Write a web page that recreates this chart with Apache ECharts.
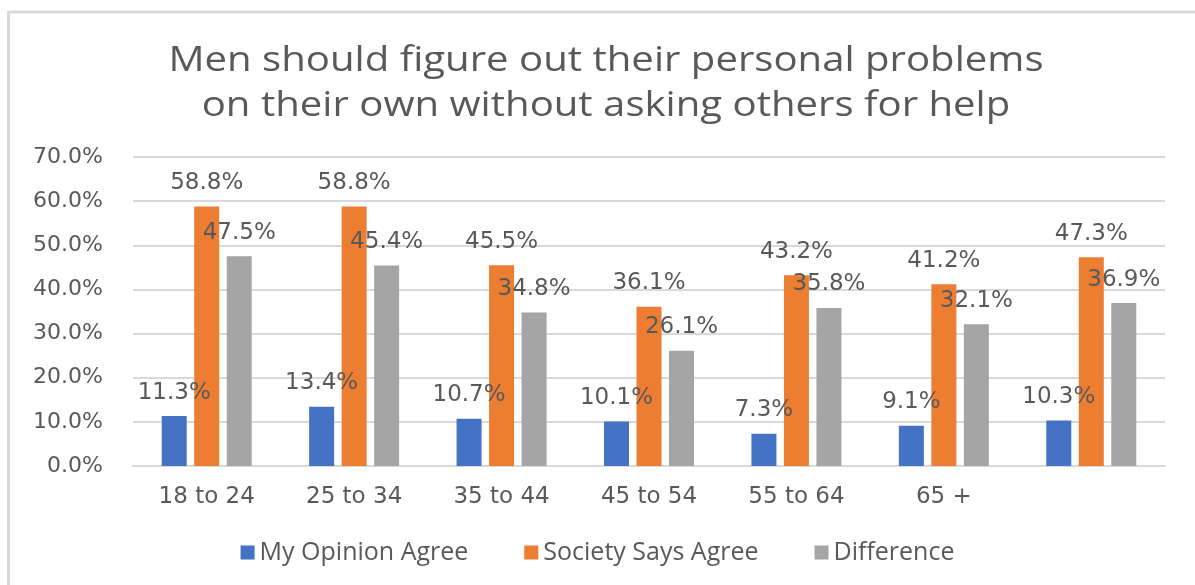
<!DOCTYPE html>
<html>
<head>
<meta charset="utf-8">
<script src="https://cdn.jsdelivr.net/npm/echarts@6/dist/echarts.min.js"></script>
<style>
  html, body { margin: 0; padding: 0; background: #fff; }
  #chart { width: 1195px; height: 585px; }
</style>
</head>
<body>
<div id="chart"></div>
<script>
// Age groups (last group is the overall total, shown without a label)
const categories = ['18 to 24', '25 to 34', '35 to 44', '45 to 54', '55 to 64', '65 +', ''];

// Percent agreeing, by age group
const myOpinionAgree = [11.3, 13.4, 10.7, 10.1, 7.3, 9.1, 10.3];
const societySaysAgree = [58.8, 58.8, 45.5, 36.1, 43.2, 41.2, 47.3];
const difference = [47.5, 45.4, 34.8, 26.1, 35.8, 32.1, 36.9];

const seriesNames = ['My Opinion Agree', 'Society Says Agree', 'Difference'];
const seriesColors = ['#4472C4', '#ED7D31', '#A5A5A5'];
const yTicks = { min: 0, max: 70, interval: 10 };
const titleLines = [
  'Men should figure out their personal problems',
  'on their own without asking others for help'
];

const textColor = '#595959';
const labelFont = 'DejaVu Sans';
const titleFont = 'Open Sans';

const chart = echarts.init(document.getElementById('chart'));

function barSeries(name, data, color) {
  return {
    name: name,
    type: 'bar',
    data: data,
    barWidth: 25,
    barGap: '30%',
    itemStyle: { color: color },
    label: {
      show: true,
      position: 'top',
      distance: 12,
      color: textColor,
      fontFamily: labelFont,
      fontSize: 23,
      formatter: p => p.value.toFixed(1) + '%'
    }
  };
}

// Title drawn as a slightly widened two-line text block
const titleGraphic = {
  type: 'text',
  x: 606,
  y: 39,
  scaleX: 1.18,
  silent: true,
  style: {
    text: titleLines.join('\n'),
    align: 'center',
    verticalAlign: 'top',
    fill: textColor,
    font: '34px "Open Sans"',
    lineHeight: 45
  }
};

chart.setOption({
  animation: false,
  backgroundColor: '#fff',
  graphic: [
    {
      type: 'rect',
      shape: { x: 8.5, y: 12, width: 1200, height: 600 },
      style: { fill: 'none', stroke: '#d9d9d9', lineWidth: 3 },
      silent: true,
      z: -1
    },
    titleGraphic
  ],
  legend: {
    top: 535,
    left: 'center',
    itemWidth: 14,
    itemHeight: 14,
    itemGap: 56,
    icon: 'rect',
    textStyle: { color: textColor, fontFamily: titleFont, fontSize: 25 },
    data: seriesNames
  },
  grid: { left: 133, right: 30, top: 157, bottom: 119 },
  xAxis: {
    type: 'category',
    data: categories,
    axisLine: { lineStyle: { color: '#d9d9d9', width: 2 } },
    axisTick: { show: false },
    axisLabel: { color: textColor, fontFamily: labelFont, fontSize: 23, margin: 20 }
  },
  yAxis: {
    type: 'value',
    min: yTicks.min,
    max: yTicks.max,
    interval: yTicks.interval,
    axisLine: { show: false },
    axisTick: { show: false },
    splitLine: { lineStyle: { color: '#d9d9d9', width: 2 } },
    axisLabel: {
      color: textColor,
      fontFamily: labelFont,
      fontSize: 22,
      margin: 30,
      formatter: v => v.toFixed(1) + '%'
    }
  },
  series: [
    barSeries(seriesNames[0], myOpinionAgree, seriesColors[0]),
    barSeries(seriesNames[1], societySaysAgree, seriesColors[1]),
    barSeries(seriesNames[2], difference, seriesColors[2])
  ]
});
</script>
</body>
</html>
